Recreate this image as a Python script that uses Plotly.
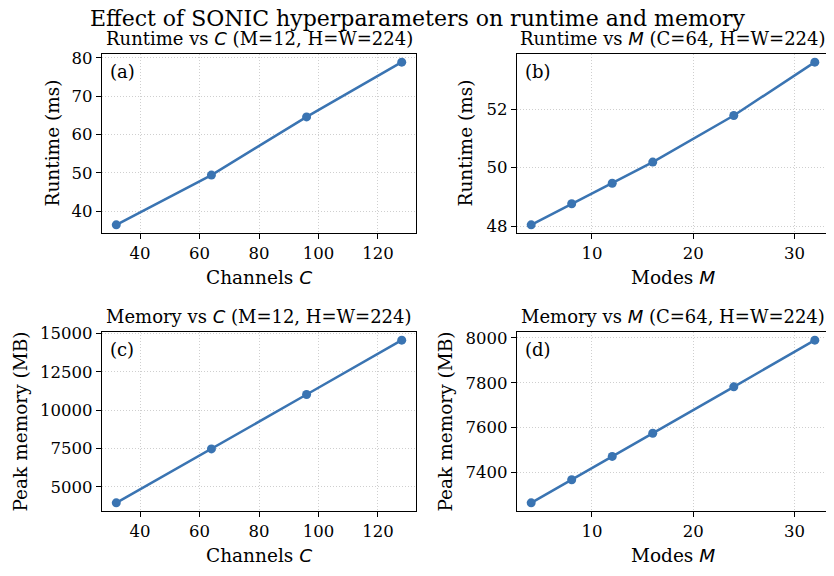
import plotly.graph_objects as go

# ---- data ----
channels = [32, 64, 96, 128]
runtime_vs_c = [36.4, 49.4, 64.6, 78.9]
memory_vs_c = [3950, 7470, 11020, 14570]

modes = [4, 8, 12, 16, 24, 32]
runtime_vs_m = [48.05, 48.77, 49.47, 50.19, 51.78, 53.6]
memory_vs_m = [7265, 7368, 7472, 7575, 7782, 7990]

suptitle = "Effect of SONIC hyperparameters on runtime and memory"
ital = lambda s: f'<span style="font-family:DejaVu Sans"><i>{s}</i></span>'
sub_titles = [
    f"Runtime vs {ital('C')} (M=12, H=W=224)",
    f"Runtime vs {ital('M')} (C=64, H=W=224)",
    f"Memory vs {ital('C')} (M=12, H=W=224)",
    f"Memory vs {ital('M')} (C=64, H=W=224)",
]
x_labels = [f"Channels {ital('C')}", f"Modes {ital('M')}", f"Channels {ital('C')}", f"Modes {ital('M')}"]
y_labels = ["Runtime (ms)", "Runtime (ms)", "Peak memory (MB)", "Peak memory (MB)"]
panel_tags = ["(a)", "(b)", "(c)", "(d)"]
x_dticks = [20, 10, 20, 10]
y_dticks = [10, 2, 2500, 200]

W, H = 834, 576
OFF = 8  # page body margin offset
FONT = "DejaVu Serif"
COLOR = "#3a74b2"

# panel boxes in target pixels (left, right, top, bottom)
boxes = [(102, 416, 54, 233), (517, 829, 54, 233), (102, 416, 332, 511), (517, 829, 332, 511)]
ylab_x = [52, 465, 20, 445]

series = [(channels, runtime_vs_c), (modes, runtime_vs_m), (channels, memory_vs_c), (modes, memory_vs_m)]

def px(x):
    return (x - OFF) / W

def py(y):
    return 1 - (y - OFF) / H

def padded(vals):
    lo, hi = min(vals), max(vals)
    m = (hi - lo) * 0.05
    return [lo - m, hi + m]

fig = go.Figure()
annotations = []
for i, ((xs, ys), (l, r, t, b)) in enumerate(zip(series, boxes)):
    n = "" if i == 0 else str(i + 1)
    xa, ya = "x" + n, "y" + n
    fig.add_trace(go.Scatter(
        x=xs, y=ys, mode="lines+markers", xaxis=xa, yaxis=ya,
        line=dict(color=COLOR, width=2.5),
        marker=dict(color=COLOR, size=9),
        showlegend=False, hoverinfo="x+y",
    ))
    common = dict(
        showline=True, linecolor="black", linewidth=1.2, mirror=True,
        ticks="outside", ticklen=5, tickwidth=1, tickcolor="black",
        showgrid=True, gridcolor="#cfcfcf", griddash="1px,2px", gridwidth=1,
        zeroline=False, tickfont=dict(family=FONT, size=16.5, color="black"),
        automargin=False,
    )
    fig.layout["xaxis" + n] = dict(
        domain=[px(l), px(r)], anchor=ya, range=padded(xs), dtick=x_dticks[i], **common)
    fig.layout["yaxis" + n] = dict(
        domain=[py(b), py(t)], anchor=xa, range=padded(ys), dtick=y_dticks[i],
        tickformat="d", **common)
    cx = (l + r) / 2
    cy = (t + b) / 2
    annotations.append(dict(text=sub_titles[i], x=px(cx), y=py(t - 16), xref="paper", yref="paper",
                            xanchor="center", yanchor="middle", showarrow=False,
                            font=dict(family=FONT, size=18, color="black")))
    annotations.append(dict(text=x_labels[i], x=px(cx), y=py(b + 44), xref="paper", yref="paper",
                            xanchor="center", yanchor="middle", showarrow=False,
                            font=dict(family=FONT, size=18.5, color="black")))
    annotations.append(dict(text=y_labels[i], x=px(ylab_x[i]), y=py(cy), xref="paper", yref="paper",
                            xanchor="center", yanchor="middle", showarrow=False, textangle=-90,
                            font=dict(family=FONT, size=18.5, color="black")))
    annotations.append(dict(text=panel_tags[i], x=px(l + 6), y=py(t + 17), xref="paper", yref="paper",
                            xanchor="left", yanchor="middle", showarrow=False,
                            font=dict(family=FONT, size=18, color="black")))

annotations.append(dict(text=suptitle, x=px(418), y=py(18), xref="paper", yref="paper",
                        xanchor="center", yanchor="middle", showarrow=False,
                        font=dict(family=FONT, size=22, color="black")))

fig.update_layout(
    width=W, height=H,
    margin=dict(l=0, r=0, t=0, b=0),
    paper_bgcolor="white", plot_bgcolor="white",
    annotations=annotations,
    font=dict(family=FONT, color="black"),
)

fig.write_html("out.html")
